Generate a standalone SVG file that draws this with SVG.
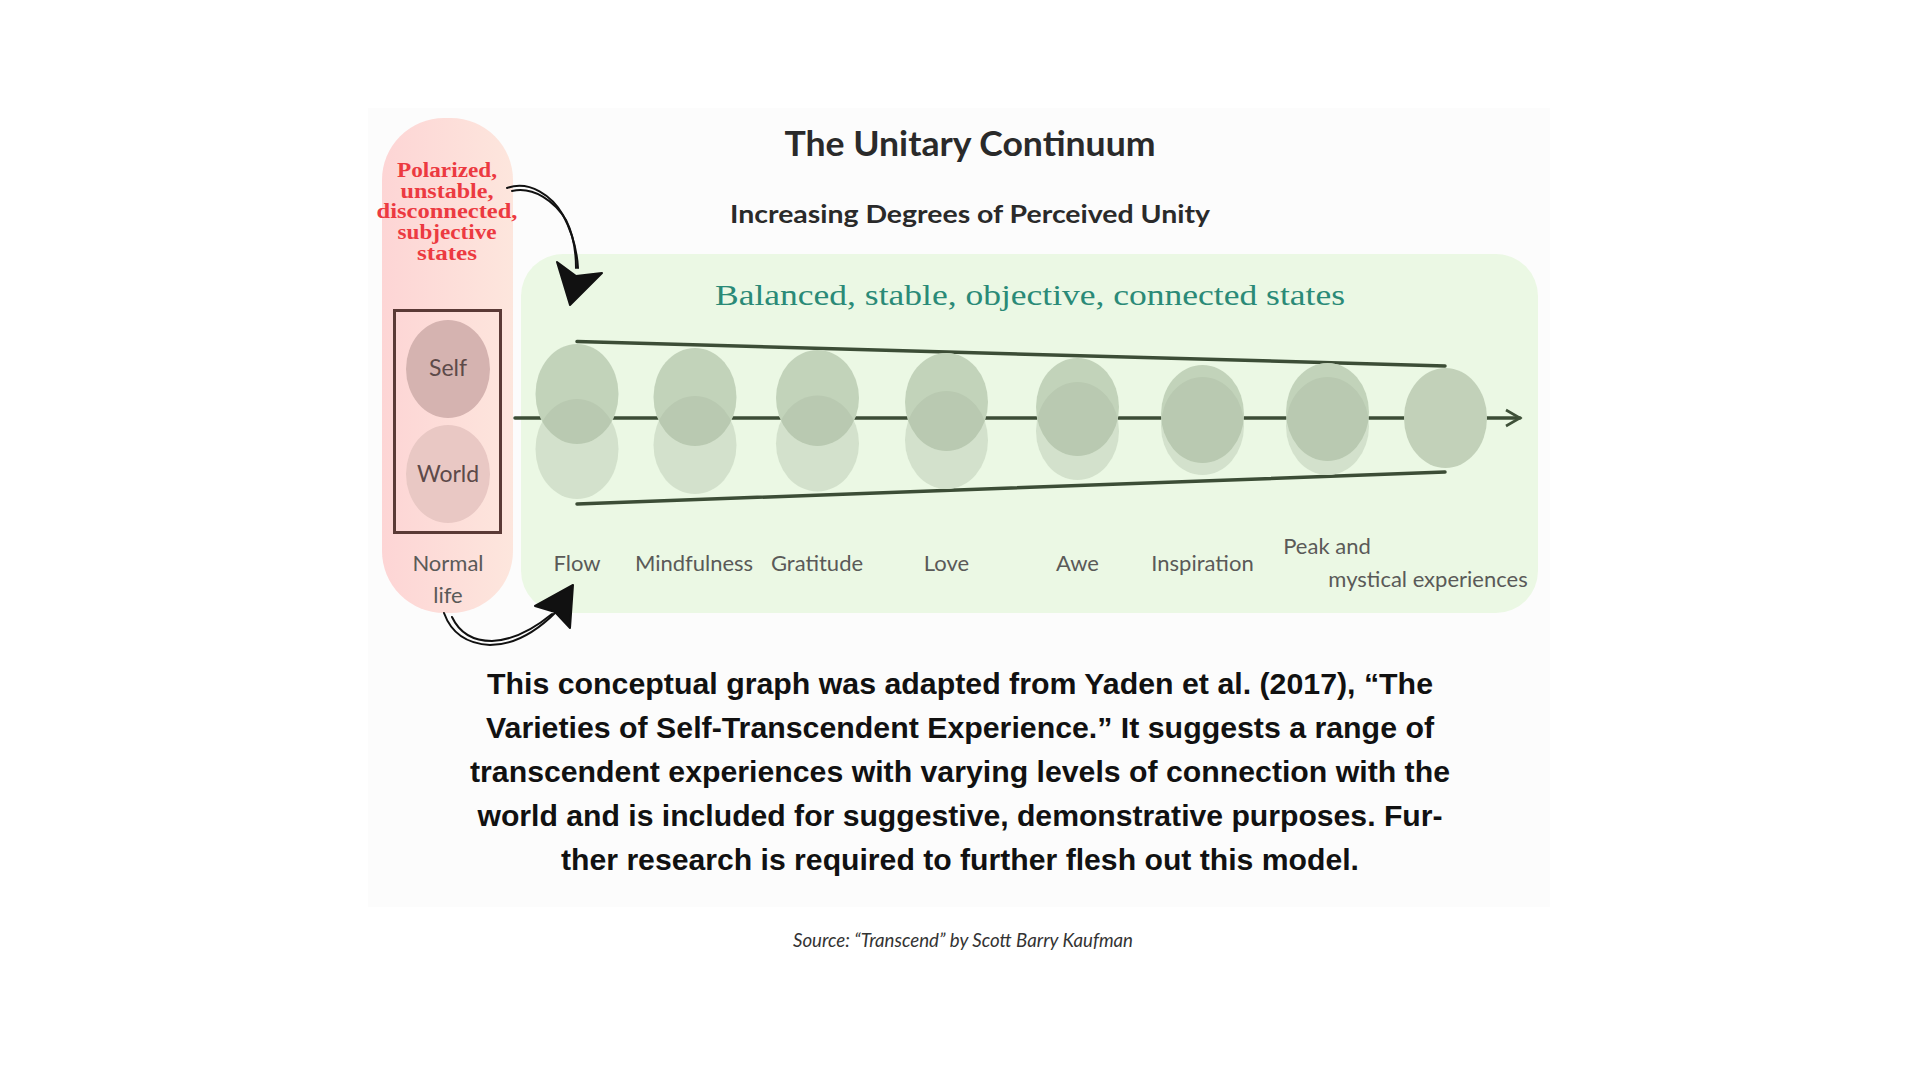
<svg xmlns="http://www.w3.org/2000/svg" width="1920" height="1080" viewBox="0 0 1920 1080">
<defs>
<linearGradient id="pinkGrad" x1="0" y1="0" x2="1" y2="0">
<stop offset="0" stop-color="#fdd5d5"/>
<stop offset="1" stop-color="#fde6dd"/>
</linearGradient>
<marker id="chev" viewBox="0 0 20 20" refX="16" refY="10" markerWidth="20" markerHeight="20" markerUnits="userSpaceOnUse" orient="auto">
<path d="M2,2 L16,10 L2,18" fill="none" stroke="#3f5139" stroke-width="2.6"/>
</marker>
</defs>
<style>
.lbl{font-family:Lato,"Open Sans","DejaVu Sans",sans-serif;font-size:22px;fill:#5a5a58;text-anchor:middle}
.pk{font-family:Lato,"Open Sans","DejaVu Sans",sans-serif;font-size:23px;fill:#5d4a49;text-anchor:middle}
.red{font-family:"Liberation Serif","DejaVu Serif",serif;font-weight:bold;font-size:20px;fill:#ec3a41;text-anchor:middle}
.par{font-family:"Liberation Sans",Arial,sans-serif;font-weight:bold;font-size:29px;fill:#111111;text-anchor:middle}
.base{fill:#eaf7e3}
.top{fill:#a6b89d;fill-opacity:0.58}
.bot{fill:#b3c4ab;fill-opacity:0.42}
.rail{stroke:#3c4d36;stroke-width:3.5;fill:none;stroke-linecap:round}
.sketch{fill:none;stroke:#111;stroke-width:2;stroke-linecap:round}
</style>
<rect width="1920" height="1080" fill="#ffffff"/>
<rect x="368" y="108" width="1182" height="799" fill="#fcfcfc"/>

<g id="title">
<text x="970" y="156" font-family="Lato,'Open Sans',sans-serif" font-weight="bold" font-size="35" fill="#2a2a2a" text-anchor="middle" textLength="371" lengthAdjust="spacingAndGlyphs">The Unitary Continuum</text>
<text x="970" y="223" font-family="Lato,'Open Sans',sans-serif" font-weight="bold" font-size="25" fill="#2a2a2a" text-anchor="middle" textLength="480" lengthAdjust="spacingAndGlyphs">Increasing Degrees of Perceived Unity</text>
</g>

<g id="normal-life">
<rect x="382" y="118" width="131" height="495" rx="62" ry="62" fill="url(#pinkGrad)"/>
<text class="red" x="447" y="177" textLength="100" lengthAdjust="spacingAndGlyphs">Polarized,</text>
<text class="red" x="447" y="198" textLength="93" lengthAdjust="spacingAndGlyphs">unstable,</text>
<text class="red" x="447" y="218" textLength="141" lengthAdjust="spacingAndGlyphs">disconnected,</text>
<text class="red" x="447" y="239" textLength="99" lengthAdjust="spacingAndGlyphs">subjective</text>
<text class="red" x="447" y="260" textLength="60" lengthAdjust="spacingAndGlyphs">states</text>
<rect x="394.5" y="310.5" width="106" height="222" fill="none" stroke="#5a3a36" stroke-width="3"/>
<ellipse cx="448" cy="369" rx="42" ry="49" fill="#d5b3b0"/>
<ellipse cx="448" cy="474" rx="42" ry="49" fill="#e9c8c4"/>
<text class="pk" x="448" y="376">Self</text>
<text class="pk" x="448" y="482">World</text>
<text class="lbl" x="448" y="571">Normal</text>
<text class="lbl" x="448" y="603">life</text>
</g>

<g id="continuum">
<rect x="521" y="254" width="1017" height="359" rx="42" ry="42" fill="#ebf8e4"/>
<text x="1030" y="305" font-family="'Liberation Serif','DejaVu Serif',serif" font-size="30" fill="#2a8a77" text-anchor="middle" textLength="630" lengthAdjust="spacingAndGlyphs">Balanced, stable, objective, connected states</text>
</g>

<g id="connectors">
<line class="rail" x1="515" y1="418" x2="1520" y2="418" marker-end="url(#chev)"/>
<line class="rail" x1="577" y1="341.5" x2="1445" y2="366"/>
<line class="rail" x1="577" y1="504" x2="1445" y2="472"/>
<g id="arrow-top">
<path class="sketch" d="M507,188 C530,180 552,196 563,215 C572,232 577,250 578,268"/>
<path class="sketch" d="M512,191 C534,186 555,202 566,220 C574,236 576,252 576,268" stroke-width="1.4"/>
<path d="M570,305 L557,262 L576,276 L602,273 Z" fill="#111" stroke="#111" stroke-width="2" stroke-linejoin="round"/>
</g>
<g id="arrow-bottom">
<path class="sketch" d="M444,613 C452,635 470,644 490,645 C515,645 538,630 556,612"/>
<path class="sketch" d="M452,617 C460,634 474,641 492,641 C514,640 535,628 552,614" stroke-width="1.4"/>
<path d="M573,585 L535,606 L555,612 L570,628 Z" fill="#111" stroke="#111" stroke-width="2" stroke-linejoin="round"/>
</g>
</g>

<g id="flow">
<ellipse class="base" cx="577" cy="449" rx="41.5" ry="50"/><ellipse class="base" cx="577" cy="394" rx="41.5" ry="50"/>
<ellipse class="bot" cx="577" cy="449" rx="41.5" ry="50"/><ellipse class="top" cx="577" cy="394" rx="41.5" ry="50"/>
<text class="lbl" x="577" y="571">Flow</text>
</g>
<g id="mindfulness">
<ellipse class="base" cx="695" cy="445" rx="41.5" ry="49"/><ellipse class="base" cx="695" cy="397" rx="41.5" ry="49"/>
<ellipse class="bot" cx="695" cy="445" rx="41.5" ry="49"/><ellipse class="top" cx="695" cy="397" rx="41.5" ry="49"/>
<text class="lbl" x="694" y="571">Mindfulness</text>
</g>
<g id="gratitude">
<ellipse class="base" cx="817.5" cy="443.5" rx="41.5" ry="48"/><ellipse class="base" cx="817.5" cy="398" rx="41.5" ry="48"/>
<ellipse class="bot" cx="817.5" cy="443.5" rx="41.5" ry="48"/><ellipse class="top" cx="817.5" cy="398" rx="41.5" ry="48"/>
<text class="lbl" x="817" y="571">Gratitude</text>
</g>
<g id="love">
<ellipse class="base" cx="946.5" cy="440" rx="41.5" ry="49"/><ellipse class="base" cx="946.5" cy="402" rx="41.5" ry="49"/>
<ellipse class="bot" cx="946.5" cy="440" rx="41.5" ry="49"/><ellipse class="top" cx="946.5" cy="402" rx="41.5" ry="49"/>
<text class="lbl" x="946.5" y="571">Love</text>
</g>
<g id="awe">
<ellipse class="base" cx="1077.5" cy="431" rx="41.5" ry="49"/><ellipse class="base" cx="1077.5" cy="407" rx="41.5" ry="49"/>
<ellipse class="bot" cx="1077.5" cy="431" rx="41.5" ry="49"/><ellipse class="top" cx="1077.5" cy="407" rx="41.5" ry="49"/>
<text class="lbl" x="1077.5" y="571">Awe</text>
</g>
<g id="inspiration">
<ellipse class="base" cx="1202.5" cy="426" rx="41.5" ry="49"/><ellipse class="base" cx="1202.5" cy="414" rx="41.5" ry="49"/>
<ellipse class="bot" cx="1202.5" cy="426" rx="41.5" ry="49"/><ellipse class="top" cx="1202.5" cy="414" rx="41.5" ry="49"/>
<text class="lbl" x="1202.5" y="571">Inspiration</text>
</g>
<g id="peak">
<ellipse class="base" cx="1327.5" cy="426" rx="41.5" ry="49"/><ellipse class="base" cx="1327.5" cy="412" rx="41.5" ry="49"/>
<ellipse class="bot" cx="1327.5" cy="426" rx="41.5" ry="49"/><ellipse class="top" cx="1327.5" cy="412" rx="41.5" ry="49"/>
<text class="lbl" x="1327" y="554">Peak and</text>
<text class="lbl" x="1428" y="587">mystical experiences</text>
</g>
<g id="unity">
<ellipse class="base" cx="1445.5" cy="418" rx="41.5" ry="50"/>
<ellipse cx="1445.5" cy="418" rx="41.5" ry="50" fill="#a6b89d" fill-opacity="0.6"/>
</g>

<g id="caption">
<text class="par" x="960" y="694" textLength="946" lengthAdjust="spacingAndGlyphs">This conceptual graph was adapted from Yaden et al. (2017), “The</text>
<text class="par" x="960" y="738" textLength="948" lengthAdjust="spacingAndGlyphs">Varieties of Self-Transcendent Experience.” It suggests a range of</text>
<text class="par" x="960" y="782" textLength="980" lengthAdjust="spacingAndGlyphs">transcendent experiences with varying levels of connection with the</text>
<text class="par" x="960" y="826" textLength="965" lengthAdjust="spacingAndGlyphs">world and is included for suggestive, demonstrative purposes. Fur-</text>
<text class="par" x="960" y="870" textLength="798" lengthAdjust="spacingAndGlyphs">ther research is required to further flesh out this model.</text>
<text x="963" y="947" font-family="Lato,'Open Sans',sans-serif" font-style="italic" font-size="20" fill="#333333" text-anchor="middle" textLength="340" lengthAdjust="spacingAndGlyphs">Source: “Transcend” by Scott Barry Kaufman</text>
</g>
</svg>
